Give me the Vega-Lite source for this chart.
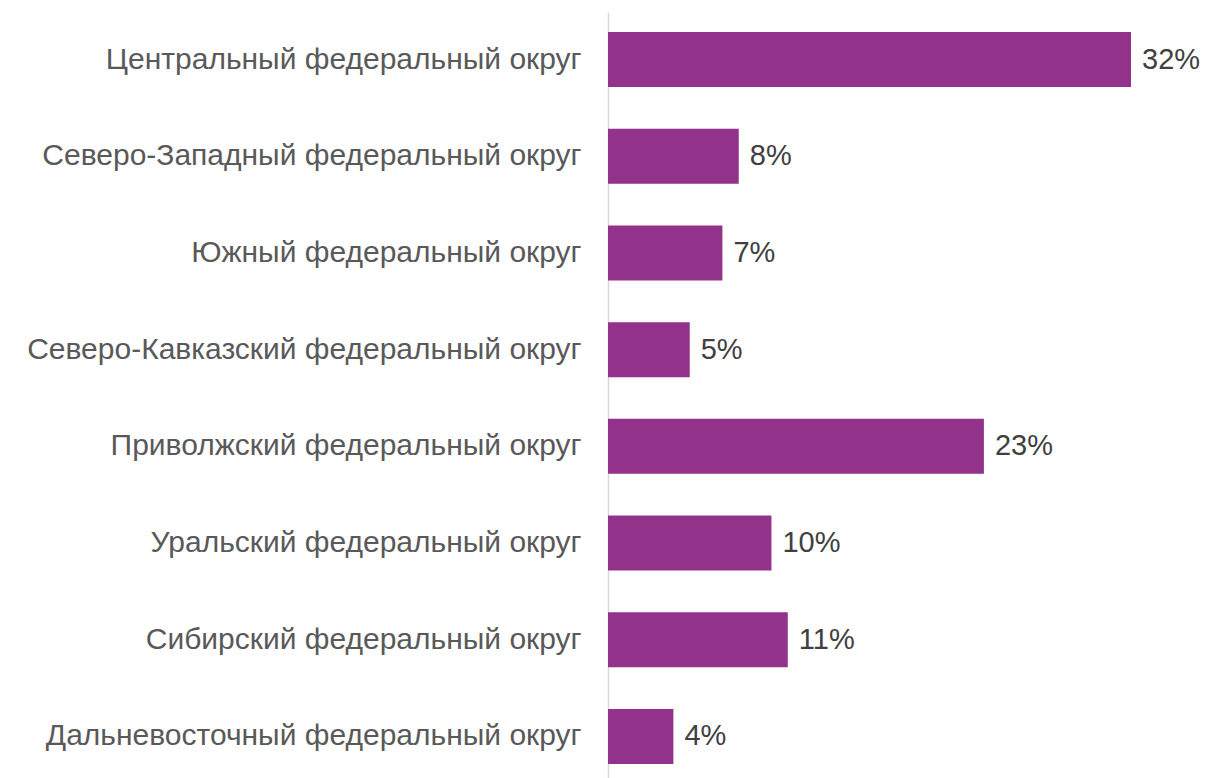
{
  "$schema": "https://vega.github.io/schema/vega-lite/v6.json",
  "autosize": "none",
  "padding": {"left": 608, "top": 12, "right": 76, "bottom": 0},
  "width": 523,
  "height": 772,
  "background": "white",
  "config": {"view": {"stroke": null}},
  "data": {"values": [
    {"region": "Центральный федеральный округ", "value": 0.32},
    {"region": "Северо-Западный федеральный округ", "value": 0.08},
    {"region": "Южный федеральный округ", "value": 0.07},
    {"region": "Северо-Кавказский федеральный округ", "value": 0.05},
    {"region": "Приволжский федеральный округ", "value": 0.23},
    {"region": "Уральский федеральный округ", "value": 0.10},
    {"region": "Сибирский федеральный округ", "value": 0.11},
    {"region": "Дальневосточный федеральный округ", "value": 0.04}
  ]},
  "encoding": {
    "y": {"field": "region", "type": "nominal", "sort": null,
      "scale": {"paddingInner": 0.431, "paddingOuter": 0.207},
      "axis": {"title": null, "ticks": false, "domainColor": "#d9d9d9", "domainWidth": 1.5,
        "labelFont": "Liberation Sans", "labelFontSize": 30, "labelColor": "#595959", "labelPadding": 27, "labelLimit": 700}},
    "x": {"field": "value", "type": "quantitative", "scale": {"domain": [0, 0.32], "nice": false, "zero": true}, "axis": null}
  },
  "layer": [
    {"mark": {"type": "bar", "color": "#93328B"}},
    {"mark": {"type": "text", "align": "left", "baseline": "middle", "dx": 11, "font": "Liberation Sans", "fontSize": 29, "color": "#404040"},
     "encoding": {"text": {"field": "value", "type": "quantitative", "format": ".0%"}}}
  ]
}
